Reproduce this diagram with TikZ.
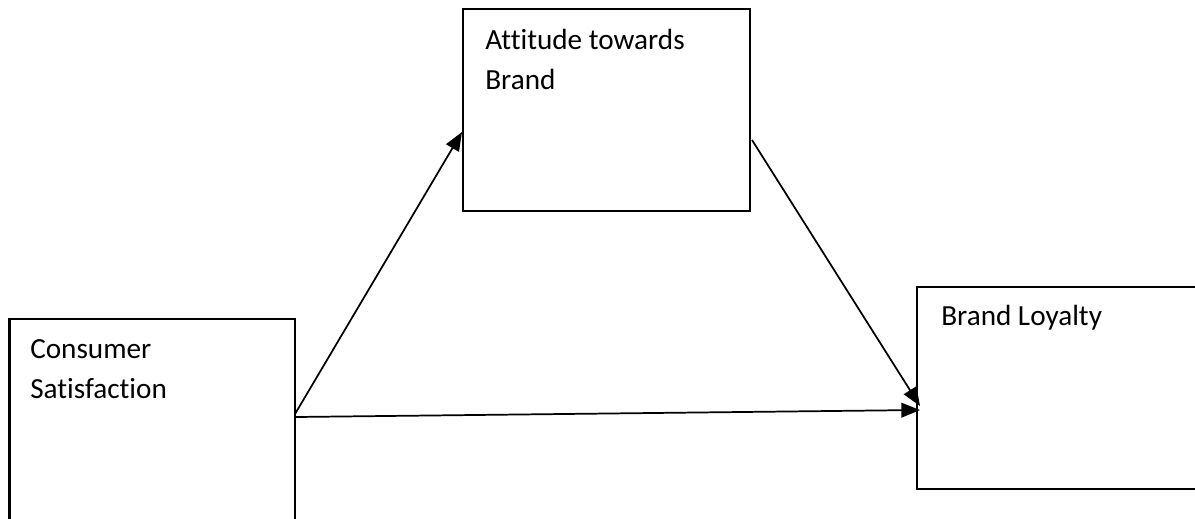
\documentclass[tikz,border=0pt]{standalone}
\usepackage{fontspec}
\setmainfont{Carlito}[Ligatures=NoCommon]
\usetikzlibrary{arrows.meta,fit}
\begin{document}
\begin{tikzpicture}[x=0.75pt,y=-0.75pt,
  box/.style={draw=black,line width=1.6pt,inner sep=0pt},
  lbl/.style={inner sep=0pt,anchor=base west,align=left,font=\fontsize{21.9}{29.6}\selectfont},
  arr/.style={draw=black,line width=1.3pt,-{Triangle[length=14pt,width=11pt]}}]
\useasboundingbox (0,0) rectangle (1195,518);
\begin{scope}
\clip (0,0) rectangle (1195,518);
\node[box,fit={(9.5,319) (295,620)}] (cs) {};
\node[box,fit={(463,9) (750,211)}] (att) {};
\node[box,fit={(917,287) (1260,489)}] (bl) {};
\end{scope}
\node[lbl] (cst) at (30,398) {Consumer\\Satisfaction};
\node[lbl] (attt) at (485,89) {Attitude towards\\Brand};
\node[lbl] (blt) at (941,325) {Brand Loyalty};
\coordinate (csout1) at (295,414);
\coordinate (csout2) at (296,417);
\coordinate (attin) at (462,132);
\coordinate (attout) at (752,140);
\coordinate (blin1) at (920,406);
\coordinate (blin2) at (920,410);
\draw[arr] (csout1) -- (attin);
\draw[arr] (attout) -- (blin1);
\draw[arr] (csout2) -- (blin2);
\end{tikzpicture}
\end{document}
